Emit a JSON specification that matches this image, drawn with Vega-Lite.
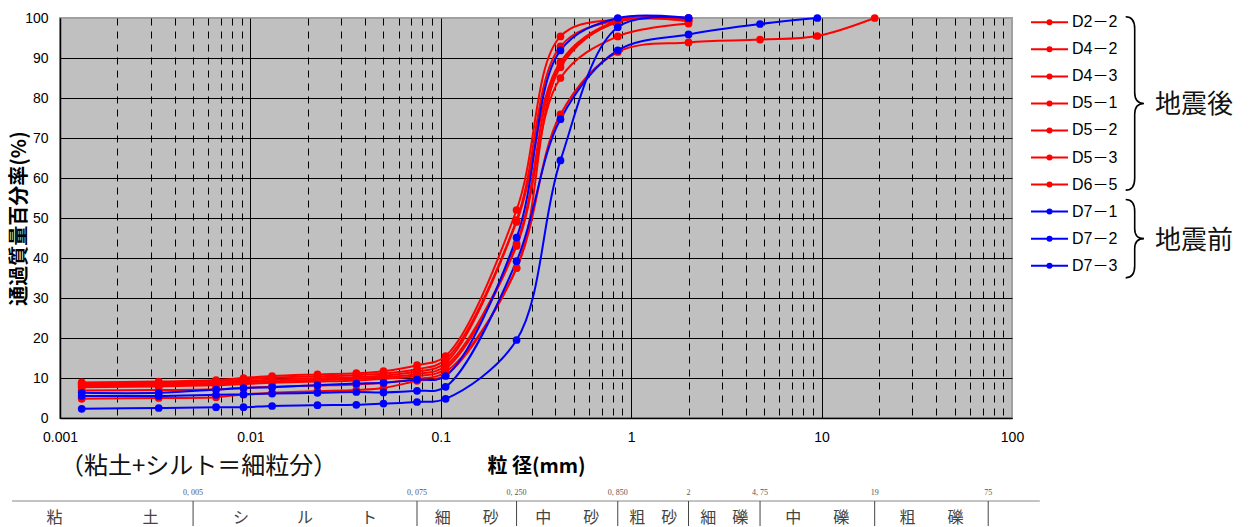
{
  "$schema": "https://vega.github.io/schema/vega-lite/v6.json",
  "background": "white",
  "padding": {"left": 8, "top": 10, "right": 0, "bottom": 0},
  "autosize": {"type": "pad"},
  "config": {"view": {"stroke": null}, "font": "Liberation Sans"},
  "datasets": {
    "curves": [
      {"s": "D2－2", "d": 0.0013, "p": 8.9}, {"s": "D2－2", "d": 0.0033, "p": 9.1}, {"s": "D2－2", "d": 0.0066, "p": 9.5}, {"s": "D2－2", "d": 0.0092, "p": 10.0}, {"s": "D2－2", "d": 0.013, "p": 10.5}, {"s": "D2－2", "d": 0.0225, "p": 10.9}, {"s": "D2－2", "d": 0.036, "p": 11.2}, {"s": "D2－2", "d": 0.05, "p": 11.7}, {"s": "D2－2", "d": 0.075, "p": 13.2}, {"s": "D2－2", "d": 0.106, "p": 15.5}, {"s": "D2－2", "d": 0.25, "p": 52.0}, {"s": "D2－2", "d": 0.425, "p": 95.4}, {"s": "D2－2", "d": 0.85, "p": 99.7}, {"s": "D2－2", "d": 2, "p": 100},
      {"s": "D4－2", "d": 0.0013, "p": 8.6}, {"s": "D4－2", "d": 0.0033, "p": 8.8}, {"s": "D4－2", "d": 0.0066, "p": 9.2}, {"s": "D4－2", "d": 0.0092, "p": 9.6}, {"s": "D4－2", "d": 0.013, "p": 10.1}, {"s": "D4－2", "d": 0.0225, "p": 10.4}, {"s": "D4－2", "d": 0.036, "p": 10.7}, {"s": "D4－2", "d": 0.05, "p": 11.1}, {"s": "D4－2", "d": 0.075, "p": 12.2}, {"s": "D4－2", "d": 0.106, "p": 14.6}, {"s": "D4－2", "d": 0.25, "p": 49.5}, {"s": "D4－2", "d": 0.425, "p": 92.9}, {"s": "D4－2", "d": 0.85, "p": 99.5}, {"s": "D4－2", "d": 2, "p": 99.8},
      {"s": "D4－3", "d": 0.0013, "p": 8.3}, {"s": "D4－3", "d": 0.0033, "p": 8.5}, {"s": "D4－3", "d": 0.0066, "p": 8.8}, {"s": "D4－3", "d": 0.0092, "p": 9.2}, {"s": "D4－3", "d": 0.013, "p": 9.6}, {"s": "D4－3", "d": 0.0225, "p": 9.9}, {"s": "D4－3", "d": 0.036, "p": 10.2}, {"s": "D4－3", "d": 0.05, "p": 10.6}, {"s": "D4－3", "d": 0.075, "p": 11.6}, {"s": "D4－3", "d": 0.106, "p": 13.8}, {"s": "D4－3", "d": 0.25, "p": 49.0}, {"s": "D4－3", "d": 0.425, "p": 89.0}, {"s": "D4－3", "d": 0.85, "p": 99.3}, {"s": "D4－3", "d": 2, "p": 99.5},
      {"s": "D5－1", "d": 0.0013, "p": 8.0}, {"s": "D5－1", "d": 0.0033, "p": 8.2}, {"s": "D5－1", "d": 0.0066, "p": 8.5}, {"s": "D5－1", "d": 0.0092, "p": 8.9}, {"s": "D5－1", "d": 0.013, "p": 9.2}, {"s": "D5－1", "d": 0.0225, "p": 9.5}, {"s": "D5－1", "d": 0.036, "p": 9.8}, {"s": "D5－1", "d": 0.05, "p": 10.2}, {"s": "D5－1", "d": 0.075, "p": 11.0}, {"s": "D5－1", "d": 0.106, "p": 13.0}, {"s": "D5－1", "d": 0.25, "p": 43.6}, {"s": "D5－1", "d": 0.425, "p": 88.5}, {"s": "D5－1", "d": 0.85, "p": 99.0}, {"s": "D5－1", "d": 2, "p": 99.3},
      {"s": "D5－2", "d": 0.0013, "p": 7.7}, {"s": "D5－2", "d": 0.0033, "p": 7.9}, {"s": "D5－2", "d": 0.0066, "p": 8.2}, {"s": "D5－2", "d": 0.0092, "p": 8.5}, {"s": "D5－2", "d": 0.013, "p": 8.8}, {"s": "D5－2", "d": 0.0225, "p": 9.1}, {"s": "D5－2", "d": 0.036, "p": 9.4}, {"s": "D5－2", "d": 0.05, "p": 9.8}, {"s": "D5－2", "d": 0.075, "p": 10.5}, {"s": "D5－2", "d": 0.106, "p": 12.3}, {"s": "D5－2", "d": 0.25, "p": 43.0}, {"s": "D5－2", "d": 0.425, "p": 85.0}, {"s": "D5－2", "d": 0.85, "p": 95.4}, {"s": "D5－2", "d": 2, "p": 98.6},
      {"s": "D5－3", "d": 0.0013, "p": 6.9}, {"s": "D5－3", "d": 0.0033, "p": 7.0}, {"s": "D5－3", "d": 0.0066, "p": 7.2}, {"s": "D5－3", "d": 0.0092, "p": 7.5}, {"s": "D5－3", "d": 0.013, "p": 7.8}, {"s": "D5－3", "d": 0.0225, "p": 8.1}, {"s": "D5－3", "d": 0.036, "p": 8.4}, {"s": "D5－3", "d": 0.05, "p": 8.8}, {"s": "D5－3", "d": 0.075, "p": 9.8}, {"s": "D5－3", "d": 0.106, "p": 11.5}, {"s": "D5－3", "d": 0.25, "p": 37.5}, {"s": "D5－3", "d": 0.425, "p": 87.7}, {"s": "D5－3", "d": 0.85, "p": 99.2}, {"s": "D5－3", "d": 2, "p": 99.2},
      {"s": "D6－5", "d": 0.0013, "p": 4.8}, {"s": "D6－5", "d": 0.0033, "p": 5.0}, {"s": "D6－5", "d": 0.0066, "p": 5.2}, {"s": "D6－5", "d": 0.0092, "p": 5.9}, {"s": "D6－5", "d": 0.013, "p": 6.3}, {"s": "D6－5", "d": 0.0225, "p": 6.7}, {"s": "D6－5", "d": 0.036, "p": 7.0}, {"s": "D6－5", "d": 0.05, "p": 7.5}, {"s": "D6－5", "d": 0.075, "p": 9.3}, {"s": "D6－5", "d": 0.106, "p": 10.7}, {"s": "D6－5", "d": 0.25, "p": 37.5}, {"s": "D6－5", "d": 0.425, "p": 75.9}, {"s": "D6－5", "d": 0.85, "p": 91.5}, {"s": "D6－5", "d": 2, "p": 93.9}, {"s": "D6－5", "d": 4.75, "p": 94.6}, {"s": "D6－5", "d": 9.5, "p": 95.5}, {"s": "D6－5", "d": 19, "p": 100},
      {"s": "D7－1", "d": 0.0013, "p": 6.3}, {"s": "D7－1", "d": 0.0033, "p": 6.3}, {"s": "D7－1", "d": 0.0066, "p": 7.1}, {"s": "D7－1", "d": 0.0092, "p": 7.5}, {"s": "D7－1", "d": 0.013, "p": 7.7}, {"s": "D7－1", "d": 0.0225, "p": 8.2}, {"s": "D7－1", "d": 0.036, "p": 8.6}, {"s": "D7－1", "d": 0.05, "p": 8.8}, {"s": "D7－1", "d": 0.075, "p": 9.6}, {"s": "D7－1", "d": 0.106, "p": 10.5}, {"s": "D7－1", "d": 0.25, "p": 45.1}, {"s": "D7－1", "d": 0.425, "p": 91.9}, {"s": "D7－1", "d": 0.85, "p": 100}, {"s": "D7－1", "d": 2, "p": 100},
      {"s": "D7－2", "d": 0.0013, "p": 5.5}, {"s": "D7－2", "d": 0.0033, "p": 5.5}, {"s": "D7－2", "d": 0.0066, "p": 5.8}, {"s": "D7－2", "d": 0.0092, "p": 5.9}, {"s": "D7－2", "d": 0.013, "p": 6.1}, {"s": "D7－2", "d": 0.0225, "p": 6.3}, {"s": "D7－2", "d": 0.036, "p": 6.5}, {"s": "D7－2", "d": 0.05, "p": 6.4}, {"s": "D7－2", "d": 0.075, "p": 6.8}, {"s": "D7－2", "d": 0.106, "p": 7.8}, {"s": "D7－2", "d": 0.25, "p": 39.2}, {"s": "D7－2", "d": 0.425, "p": 74.7}, {"s": "D7－2", "d": 0.85, "p": 91.9}, {"s": "D7－2", "d": 2, "p": 95.9}, {"s": "D7－2", "d": 4.75, "p": 98.5}, {"s": "D7－2", "d": 9.5, "p": 100},
      {"s": "D7－3", "d": 0.0013, "p": 2.3}, {"s": "D7－3", "d": 0.0033, "p": 2.5}, {"s": "D7－3", "d": 0.0066, "p": 2.7}, {"s": "D7－3", "d": 0.0092, "p": 2.7}, {"s": "D7－3", "d": 0.013, "p": 3.0}, {"s": "D7－3", "d": 0.0225, "p": 3.2}, {"s": "D7－3", "d": 0.036, "p": 3.3}, {"s": "D7－3", "d": 0.05, "p": 3.6}, {"s": "D7－3", "d": 0.075, "p": 4.0}, {"s": "D7－3", "d": 0.106, "p": 4.8}, {"s": "D7－3", "d": 0.25, "p": 19.5}, {"s": "D7－3", "d": 0.425, "p": 64.4}, {"s": "D7－3", "d": 0.85, "p": 97.7}, {"s": "D7－3", "d": 2, "p": 100}
    ],
    "series": [
      {"s": "D2－2", "g": "地震後"}, {"s": "D4－2", "g": "地震後"}, {"s": "D4－3", "g": "地震後"}, {"s": "D5－1", "g": "地震後"}, {"s": "D5－2", "g": "地震後"}, {"s": "D5－3", "g": "地震後"}, {"s": "D6－5", "g": "地震後"},
      {"s": "D7－1", "g": "地震前"}, {"s": "D7－2", "g": "地震前"}, {"s": "D7－3", "g": "地震前"}
    ],
    "groups": [
      {"g": "地震後", "mid": "D5－1"},
      {"g": "地震前", "mid": "D7－2"}
    ],
    "classes": [
      {"name": "粘　　　　　土", "lo": 0.00056, "hi": 0.005, "tick": "0, 005"},
      {"name": "シ　　　ル　　　ト", "lo": 0.005, "hi": 0.075, "tick": "0, 075"},
      {"name": "細　　砂", "lo": 0.075, "hi": 0.25, "tick": "0, 250"},
      {"name": "中　　砂", "lo": 0.25, "hi": 0.85, "tick": "0, 850"},
      {"name": "粗　砂", "lo": 0.85, "hi": 2, "tick": "2"},
      {"name": "細　礫", "lo": 2, "hi": 4.75, "tick": "4, 75"},
      {"name": "中　　礫", "lo": 4.75, "hi": 19, "tick": "19"},
      {"name": "粗　　礫", "lo": 19, "hi": 75, "tick": "75"},
      {"name": "", "lo": 75, "hi": 140, "tick": ""}
    ]
  },
  "columns": 2,
  "bounds": "flush",
  "align": "each",
  "spacing": {"row": 36, "column": 9},
  "concat": [
    {
      "width": 952,
      "height": 400,
      "view": {"fill": "#c0c0c0", "stroke": "#a0a0a0", "strokeWidth": 2},
      "data": {"name": "curves"},
      "encoding": {
        "x": {
          "field": "d", "type": "quantitative",
          "scale": {"type": "log", "domain": [0.001, 100], "nice": false},
          "axis": {
            "values": [0.001, 0.002, 0.003, 0.004, 0.005, 0.006, 0.007, 0.008, 0.009, 0.01, 0.02, 0.03, 0.04, 0.05, 0.06, 0.07, 0.08, 0.09, 0.1, 0.2, 0.3, 0.4, 0.5, 0.6, 0.7, 0.8, 0.9, 1, 2, 3, 4, 5, 6, 7, 8, 9, 10, 20, 30, 40, 50, 60, 70, 80, 90, 100],
            "format": "~g",
            "labelExpr": "abs(log(datum.value)/LN10 - round(log(datum.value)/LN10)) < 0.001 ? datum.label : ''",
            "labelOverlap": false,
            "labelFlush": false,
            "labelFont": "Liberation Sans",
            "labelFontSize": 14,
            "labelColor": "black",
            "labelPadding": 12,
            "ticks": false,
            "domainColor": "black",
            "domainWidth": 1.5,
            "grid": true,
            "gridColor": "black",
            "gridWidth": 1,
            "gridDash": {"condition": {"test": "abs(log(datum.value)/LN10 - round(log(datum.value)/LN10)) > 0.001", "value": [7, 6]}, "value": []},
            "gridOpacity": {"condition": {"test": "datum.value >= 99", "value": 0}, "value": 1},
            "title": "粒 径(mm)",
            "titleFont": "Noto Sans CJK JP",
            "titleFontSize": 20,
            "titleFontWeight": "bold",
            "titleColor": "black",
            "titlePadding": 12
          }
        },
        "y": {
          "field": "p", "type": "quantitative",
          "scale": {"domain": [0, 100], "nice": false},
          "axis": {
            "values": [0, 10, 20, 30, 40, 50, 60, 70, 80, 90, 100],
            "ticks": false,
            "domainColor": "black",
            "domainWidth": 1.5,
            "grid": true,
            "gridColor": "black",
            "gridWidth": 1.2,
            "gridOpacity": {"condition": {"test": "datum.value >= 99", "value": 0}, "value": 1},
            "labelFont": "Liberation Sans",
            "labelFontSize": 14,
            "labelColor": "black",
            "labelPadding": 12,
            "title": "通過質量百分率(%)",
            "titleFont": "Noto Sans CJK JP",
            "titleFontSize": 20,
            "titleFontWeight": "bold",
            "titleColor": "black",
            "titlePadding": -5
          }
        },
        "color": {
          "field": "s", "type": "nominal",
          "scale": {
            "domain": ["D2－2", "D4－2", "D4－3", "D5－1", "D5－2", "D5－3", "D6－5", "D7－1", "D7－2", "D7－3"],
            "range": ["#ff0000", "#ff0000", "#ff0000", "#ff0000", "#ff0000", "#ff0000", "#ff0000", "#0000ff", "#0000ff", "#0000ff"]
          },
          "legend": null
        }
      },
      "layer": [
        {"mark": {"type": "line", "interpolate": "catmull-rom", "strokeWidth": 2}},
        {"mark": {"type": "point", "filled": true, "size": 60, "opacity": 1}}
      ]
    },
    {
      "width": 224,
      "height": 252,
      "view": {"stroke": null, "fill": null},
      "data": {"name": "series"},
      "encoding": {
        "y": {
          "field": "s", "type": "nominal",
          "scale": {"type": "point", "padding": 0.159, "domain": ["D2－2", "D4－2", "D4－3", "D5－1", "D5－2", "D5－3", "D6－5", "D7－1", "D7－2", "D7－3"]},
          "axis": null
        }
      },
      "layer": [
        {
          "mark": {"type": "rule", "strokeWidth": 2},
          "encoding": {
            "x": {"datum": 10, "type": "quantitative", "scale": {"domain": [0, 224], "nice": false, "zero": false}, "axis": null},
            "x2": {"datum": 47},
            "color": {
              "field": "s", "type": "nominal",
              "scale": {
                "domain": ["D2－2", "D4－2", "D4－3", "D5－1", "D5－2", "D5－3", "D6－5", "D7－1", "D7－2", "D7－3"],
                "range": ["#ff0000", "#ff0000", "#ff0000", "#ff0000", "#ff0000", "#ff0000", "#ff0000", "#0000ff", "#0000ff", "#0000ff"]
              },
              "legend": null
            }
          }
        },
        {
          "mark": {"type": "point", "filled": true, "size": 36, "opacity": 1},
          "encoding": {
            "x": {"datum": 28.5, "type": "quantitative"},
            "color": {"field": "s", "type": "nominal", "legend": null}
          }
        },
        {
          "mark": {"type": "text", "align": "left", "baseline": "middle", "font": "Liberation Sans, Noto Sans CJK JP", "fontSize": 16, "color": "black"},
          "encoding": {
            "x": {"datum": 51, "type": "quantitative"},
            "text": {"field": "s"}
          }
        },
        {
          "data": {"name": "groups"},
          "transform": [{"filter": "datum.g == '地震後'"}],
          "mark": {"type": "point", "shape": "M-0.104,-1 Q0,-1 0,-0.862 L0,-0.125 Q0,0 0.107,0 Q0,0 0,0.125 L0,0.862 Q0,1 -0.104,1", "size": 30068, "filled": false, "stroke": "black", "strokeWidth": 1.6, "opacity": 1},
          "encoding": {
            "x": {"datum": 113.7, "type": "quantitative"},
            "y": {"field": "mid", "type": "nominal"}
          }
        },
        {
          "data": {"name": "groups"},
          "transform": [{"filter": "datum.g == '地震前'"}],
          "mark": {"type": "point", "shape": "M-0.23,-1 Q0,-1 0,-0.694 L0,-0.255 Q0,0 0.237,0 Q0,0 0,0.255 L0,0.694 Q0,1 -0.23,1", "size": 6147, "filled": false, "stroke": "black", "strokeWidth": 1.6, "opacity": 1},
          "encoding": {
            "x": {"datum": 113.7, "type": "quantitative"},
            "y": {"field": "mid", "type": "nominal"}
          }
        },
        {
          "data": {"name": "groups"},
          "mark": {"type": "text", "align": "left", "baseline": "middle", "font": "Noto Sans CJK JP", "fontSize": 26, "color": "#111", "dy": 2},
          "encoding": {
            "x": {"datum": 134, "type": "quantitative"},
            "y": {"field": "mid", "type": "nominal"},
            "text": {"field": "g"}
          }
        }
      ]
    },
    {
      "width": 952,
      "height": 72,
      "view": {"stroke": null, "fill": null},
      "data": {"name": "classes"},
      "layer": [
        {
          "data": {"values": [{"t": "（粘土+シルト＝細粒分）"}]},
          "mark": {"type": "text", "align": "left", "baseline": "middle", "font": "Noto Sans CJK JP", "fontSize": 24, "color": "#111"},
          "encoding": {
            "x": {"datum": 0.001, "type": "quantitative", "scale": {"type": "log", "domain": [0.001, 100], "nice": false}, "axis": null},
            "y": {"datum": 13, "type": "quantitative", "scale": {"domain": [0, 72], "reverse": true, "nice": false, "zero": false}, "axis": null},
            "text": {"field": "t"}
          }
        },
        {
          "mark": {"type": "rule", "color": "#888888", "strokeWidth": 1},
          "encoding": {
            "x": {"field": "lo", "type": "quantitative", "scale": {"type": "log", "domain": [0.001, 100], "nice": false}, "axis": null},
            "x2": {"field": "hi"},
            "y": {"datum": 47, "type": "quantitative"}
          }
        },
        {
          "transform": [{"filter": "datum.tick != ''"}],
          "mark": {"type": "rule", "color": "#444444", "strokeWidth": 1},
          "encoding": {
            "x": {"field": "hi", "type": "quantitative"},
            "y": {"datum": 47, "type": "quantitative"},
            "y2": {"datum": 72}
          }
        },
        {
          "transform": [{"filter": "datum.tick != ''"}],
          "mark": {"type": "text", "baseline": "middle", "font": "Liberation Serif", "fontSize": 8, "color": "#555555"},
          "encoding": {
            "x": {"field": "hi", "type": "quantitative"},
            "y": {"datum": 39, "type": "quantitative"},
            "text": {"field": "tick"}
          }
        },
        {
          "transform": [{"filter": "datum.name != ''"}, {"calculate": "sqrt(datum.lo * datum.hi)", "as": "c"}],
          "mark": {"type": "text", "baseline": "middle", "font": "Noto Sans CJK JP", "fontSize": 16, "color": "#444444"},
          "encoding": {
            "x": {"field": "c", "type": "quantitative"},
            "y": {"datum": 64, "type": "quantitative"},
            "text": {"field": "name"}
          }
        }
      ]
    }
  ]
}
